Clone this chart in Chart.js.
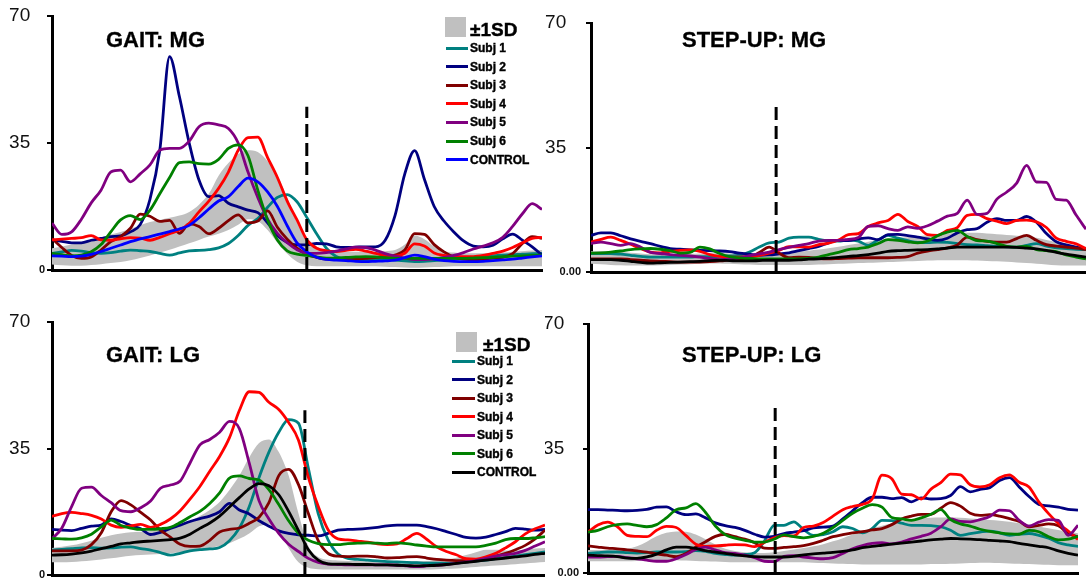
<!DOCTYPE html>
<html>
<head>
<meta charset="utf-8">
<script src="https://cdn.jsdelivr.net/npm/chart.js@4/dist/chart.umd.min.js"></script>
<style>
  body { margin: 0; background: #fff; width: 1086px; height: 579px; position: relative; overflow: hidden;
         font-family: "Liberation Sans", Arial, sans-serif; }
  canvas { position: absolute; }
  .title { position: absolute; font-weight: bold; font-size: 22px; line-height: 22px; white-space: nowrap; color: #000;
           -webkit-text-stroke: 0.3px #000; }
  .sd-box { position: absolute; background: #c0c0c0; }
  .sd-text { position: absolute; font-weight: bold; font-size: 19px; line-height: 20px; color: #000; -webkit-text-stroke: 0.4px #000; }
  .row { position: absolute; height: 18px; display: flex; align-items: center; }
  .row i { display: block; height: 3px; margin-right: 2px; }
  .row span { font-weight: bold; font-size: 12px; line-height: 12px; color: #000; white-space: nowrap; -webkit-text-stroke: 0.4px #000; }
</style>
</head>
<body>
<canvas id="gait-mg" width="545" height="290" style="left:0;top:0"></canvas>
<canvas id="step-mg" width="541" height="290" style="left:545px;top:0"></canvas>
<canvas id="gait-lg" width="545" height="289" style="left:0;top:290px"></canvas>
<canvas id="step-lg" width="541" height="289" style="left:545px;top:290px"></canvas>

<div class="title" style="left:106px;top:29px">GAIT: MG</div>
<div class="title" style="left:682px;top:29px">STEP-UP: MG</div>
<div class="title" style="left:106px;top:344px">GAIT: LG</div>
<div class="title" style="left:682px;top:344px">STEP-UP: LG</div>
<div id="legend-mg"></div>
<div id="legend-lg"></div>

<script>
// % of cycle, shared by all panels
var pct = [0, 2, 4, 6, 8, 10, 12, 14, 16, 18, 20, 22, 24, 26, 28, 30, 32, 34, 36, 38, 40, 42, 44, 46, 48, 50,
           52, 54, 56, 58, 60, 62, 64, 66, 68, 70, 72, 74, 76, 78, 80, 82, 84, 86, 88, 90, 92, 94, 96, 98, 100];

var yTicks = [0, 35, 70];
var gaitTickText = ['0', '35', '70'];
var stepTickText = ['0.00', '35', '70'];

var seriesNames = ['Subj 1', 'Subj 2', 'Subj 3', 'Subj 4', 'Subj 5', 'Subj 6', 'CONTROL'];
var subjColors = ['#008080', '#000080', '#800000', '#ff0000', '#800080', '#008000'];

// phase boundary (dashed line): x position and height, per panel
var splitAt = [52, 37.4, 51.3, 38.2];
var splitTop = [45, 47, 45.6, 46.4];

// ---- GAIT: MG ----
var mgGaitS1 = [4.6, 5, 5.4, 5.2, 4.8, 4.6, 4.8, 5.2, 5.5, 5.3, 5.1, 4.6, 4.1, 4.7, 5.3, 5.4, 5.6, 6.1, 7.3, 9.5,
  12.3, 14.2, 17.3, 20, 20.8, 18.8, 14.5, 10, 6, 3.7, 2.9, 2.8, 2.8, 2.9, 2.9, 2.7, 2.5, 2.3, 2.4, 2.6,
  2.8, 3, 3.1, 3.3, 3.6, 3.9, 4.1, 4.2, 4.4, 4.5, 4.6];
var mgGaitS2 = [8.3, 7.9, 7.5, 7.5, 8.2, 8.7, 9.2, 9.4, 10.5, 12.5, 19.5, 33, 58.8, 47.8, 35, 24.8, 20.2, 20.5, 18.4, 17.4,
  16.5, 15.8, 13, 9.5, 7.6, 6.9, 6.9, 7.3, 7.2, 6.4, 6.2, 6.3, 6.4, 6.4, 8.2, 15, 26.5, 32.9, 25, 17.5,
  13.5, 10.5, 8, 6.6, 6.4, 6.8, 8.6, 9.9, 8.2, 6.4, 4.1];
var mgGaitS3 = [8.7, 6.2, 4, 3.2, 3.6, 5.5, 7.8, 9.2, 11.5, 15.4, 14.8, 13.4, 13.7, 10.1, 12.7, 12, 10, 11.5, 13.6, 15.2,
  13, 13.5, 16.3, 11.8, 8.5, 6, 4.3, 3.5, 3, 2.9, 2.9, 3, 3.2, 3.4, 3.7, 4.1, 5.5, 10, 9.8, 7,
  5, 3.6, 3, 2.8, 3, 3.3, 3.5, 4.5, 7.3, 9.2, 8.7];
var mgGaitS4 = [8.3, 8.5, 8.7, 8.9, 9.5, 8.3, 8.2, 8.6, 8.9, 8.8, 8.2, 9, 10, 11, 12.8, 16, 19, 22.5, 27, 33,
  36.5, 36.6, 31, 25.5, 19, 13.8, 8.3, 6, 5.3, 5.1, 5.4, 5.7, 5.2, 4.6, 4, 3.8, 4.6, 7.2, 6.6, 4.7,
  4, 3.7, 3.7, 3.7, 4, 4.6, 5.2, 6.2, 7.5, 8.7, 9];
var mgGaitS5 = [12.9, 9.8, 10.5, 14, 18.5, 22, 27, 27.5, 24.3, 26.5, 29, 33, 33.5, 33.5, 35.5, 39.5, 40.5, 40, 39, 35,
  27, 20, 14, 10.1, 7.5, 5.6, 4.6, 4.6, 4.8, 5.2, 5.8, 6.3, 6.2, 5.5, 4.5, 3.8, 3.3, 2.9, 2.9, 3.1,
  3.5, 4, 4.8, 5.8, 6.6, 7.5, 9, 12, 15.5, 18.3, 16.7];
var mgGaitS6 = [4.6, 4.2, 3.9, 4.1, 5, 7, 10.5, 13.8, 15, 13.9, 16.5, 21, 25.5, 29.6, 29.8, 29.3, 29.2, 30.5, 33.5, 34.5,
  31.5, 22, 13.8, 8.3, 5.3, 4.4, 4, 3.6, 3.3, 3.3, 3.5, 3.6, 3.7, 3.6, 3.4, 3.2, 3.2, 3.2, 3.2, 3.2,
  3.2, 3.2, 3.2, 3.3, 3.4, 3.5, 3.7, 3.8, 3.9, 4, 4.1];
var mgGaitCtl = [3.9, 3.8, 3.7, 3.8, 4.3, 5.1, 6, 6.9, 7.8, 8.6, 9.2, 9.9, 10.6, 11.3, 12.3, 14.4, 16.8, 19, 20.2, 23,
  25.3, 24.3, 21.5, 17.5, 12.2, 7.5, 5, 3.5, 2.9, 2.7, 2.6, 2.4, 2.3, 2.4, 2.5, 2.7, 3.4, 4.1, 3.7, 3,
  2.6, 2.4, 2.3, 2.3, 2.4, 2.6, 2.8, 3, 3.3, 3.6, 3.9];
var mgGaitHi = [6, 6.5, 7, 7.5, 8.2, 9, 9.8, 10.5, 11.3, 12.3, 13.2, 13.8, 14.4, 15, 16, 18, 21, 26, 29.5, 32,
  33, 32.5, 30, 26, 20, 13, 8.5, 6.5, 5.5, 5.2, 5, 5, 5, 5, 5.2, 5.5, 7, 9.5, 8.5, 6.5,
  5.2, 4.8, 4.6, 4.6, 4.6, 4.7, 4.8, 5, 5.2, 5.4, 5.5];
var mgGaitLo = [1.5, 1.3, 1.2, 1.2, 1.4, 1.6, 1.9, 2.2, 2.7, 3.3, 4, 4.8, 5.6, 6.5, 7.4, 8.3, 9.2, 10, 11, 12.5,
  14, 13.5, 11, 7.5, 4.5, 2.3, 1.3, 1, 1, 1, 1, 1, 1, 1, 0.9, 0.8, 0.7, 0.6, 0.7, 0.8,
  0.9, 1, 1, 1, 1, 1, 1, 1, 1, 1, 1];

// ---- STEP-UP: MG ----
var mgStepS1 = [5.2, 5.2, 5.2, 5, 4.7, 4.4, 4.2, 4.2, 4.2, 4.2, 4.2, 4.3, 4.3, 4.4, 4.5, 4.7, 5.6, 7, 8.2, 8.4,
  9.5, 9.8, 9.8, 9.2, 8.8, 8.7, 9, 8.7, 7.5, 9, 10.3, 9.5, 8.8, 8.3, 8.3, 8.4, 8.3, 8, 7.7, 7.6,
  7.4, 7.2, 7.1, 7, 7.5, 8, 7.3, 6.8, 6.6, 6.4, 6.3];
var mgStepS2 = [10.3, 11, 11, 10.2, 9.3, 8.6, 8, 7.2, 6.6, 6.4, 6.2, 6.1, 6, 5.9, 5.7, 5.3, 5, 4.7, 4.8, 5.1,
  5.4, 6, 6.6, 7.2, 8.2, 8.9, 8.8, 9.3, 9.6, 9.1, 10.5, 10.6, 10.2, 9.8, 9.3, 8.9, 9.5, 11, 11.9, 12.2,
  14, 15, 14.5, 14.5, 15.6, 14, 10.8, 8.5, 7.6, 7, 6.6];
var mgStepS3 = [3.7, 3.7, 3.7, 3.7, 3.5, 3.3, 3.1, 3, 2.9, 2.8, 2.8, 2.8, 2.9, 3.1, 3.4, 3.7, 4, 5.5, 7, 5.3,
  4, 4.2, 4.1, 3.8, 3.7, 3.8, 3.9, 4, 4, 4, 4, 4.1, 4.3, 5.3, 5.9, 6.3, 6.8, 7.6, 9.8, 9.1,
  8.6, 8.4, 8.4, 9.4, 10.3, 8.9, 7.7, 7.3, 7, 6.7, 6.3];
var mgStepS4 = [8.4, 9.2, 9.8, 8.9, 7.8, 6.6, 5.6, 5.4, 5.8, 6.1, 6.2, 5.8, 4.9, 4.4, 4.2, 4.2, 4.3, 4.7, 5.3, 6.1,
  7.1, 7.1, 7, 7.7, 8.1, 9, 10.5, 10.8, 12.8, 13.8, 14.5, 16.2, 14.2, 12.8, 10.5, 10.3, 11.7, 12.5, 15.9, 16.2,
  15, 14.3, 13.6, 14.5, 14.6, 14.1, 12.5, 9.5, 8.6, 7.9, 6.6];
var mgStepS5 = [8, 8.4, 8, 7.5, 8, 7, 5.5, 5.2, 4.9, 4.7, 4.5, 4.2, 3.8, 3.5, 3.6, 4, 4.6, 5.1, 5.6, 6.3,
  6.9, 7.5, 8, 8.7, 8.9, 8.9, 9.2, 9.7, 12.8, 13, 12.2, 11.7, 12.7, 12.3, 13, 14.3, 15.7, 16.5, 20.2, 16.2,
  16.5, 20.5, 22.5, 25, 30, 25.3, 25.2, 20.4, 20.2, 16, 12];
var mgStepS6 = [5.3, 5.4, 5.6, 5.9, 6.3, 6.5, 6.6, 6.4, 6, 5.3, 5.5, 7, 6.5, 5.2, 4.3, 4, 3.8, 3.7, 3.7, 3.7,
  3.7, 3.7, 3.8, 4.2, 4.9, 5.5, 6.3, 6.6, 7, 8, 9.1, 8.9, 8.5, 8.2, 8.7, 10.2, 11.2, 11.7, 10, 8.8,
  8.7, 8, 7.2, 7, 7.2, 6.3, 6, 5.7, 4.8, 4.2, 3.7];
var mgStepCtl = [3.5, 3.5, 3.5, 3.3, 3, 2.7, 2.5, 2.6, 2.7, 2.8, 2.9, 3, 3.2, 3.3, 3.2, 3.1, 3.1, 3.2, 3.3, 3.3,
  3.3, 3.4, 3.6, 3.7, 3.9, 4.1, 4.4, 4.6, 4.9, 5.3, 5.8, 6, 6.1, 6.2, 6.3, 6.5, 6.7, 7, 7, 7,
  7, 7, 7, 6.9, 6.7, 6.5, 6.1, 5.5, 5, 4.6, 4.2];
var mgStepHi = [5.8, 5.8, 5.8, 5.6, 5.4, 5.2, 5, 5, 5, 5, 5.1, 5.2, 5.3, 5.3, 5.2, 5, 4.9, 5, 5.2, 5.4,
  5.6, 5.8, 6, 6.3, 6.7, 7.1, 7.6, 8, 8.5, 9, 9.4, 9.6, 9.8, 10, 10.3, 10.6, 10.8, 11, 11, 11,
  10.8, 10.6, 10.4, 10.2, 10, 9.6, 9, 8.4, 7.8, 7.3, 6.8];
var mgStepLo = [2.3, 2.2, 2, 1.9, 1.8, 1.8, 1.8, 1.9, 2, 2.1, 2.2, 2.3, 2.4, 2.4, 2.3, 2.2, 2.1, 2, 2, 2,
  2, 2, 2, 2.1, 2.2, 2.3, 2.4, 2.5, 2.6, 2.7, 2.8, 2.9, 3, 3.1, 3.2, 3.3, 3.3, 3.3, 3.3, 3.2,
  3.1, 3, 2.9, 2.7, 2.5, 2.3, 2.1, 1.9, 1.8, 1.8, 1.8];

// ---- GAIT: LG ----
var lgGaitS1 = [6.9, 7.1, 7.3, 7.5, 7.6, 7.4, 7.5, 7.7, 7.8, 7.3, 6.9, 6.2, 5.5, 6, 6.7, 7, 7.2, 7.6, 9.5, 13,
  18.9, 27, 34, 39.5, 43, 42, 29.5, 17, 9.7, 5.8, 4.6, 4.3, 4.1, 3.9, 3.7, 3.6, 3.5, 3.4, 3.3, 3.3,
  3.2, 3.3, 3.6, 3.9, 4.1, 4.5, 4.8, 5.2, 5.6, 6, 6.4];
var lgGaitS2 = [12.6, 12.4, 12.3, 12.9, 13.5, 13.8, 15.5, 14.8, 13.7, 12.8, 11.2, 11.8, 12.9, 13.8, 14.8, 15.6, 16.3, 17.5, 19.8, 18,
  16.9, 15, 13.5, 12.2, 11.5, 11.1, 11, 10.8, 11.5, 12.4, 12.6, 12.7, 12.9, 13.2, 13.6, 13.8, 13.8, 13.8, 13.4, 12.8,
  12, 11.2, 10.4, 10.2, 10.5, 11.2, 12, 12.9, 12.7, 12.4, 12.6];
var lgGaitS3 = [6.7, 6.7, 6.7, 6.9, 8.4, 11.7, 17.5, 20.6, 19.4, 17.3, 15.2, 12.4, 10.5, 8.5, 7.9, 8, 9.6, 11.9, 12.6, 13,
  14.3, 16, 20, 27.5, 29.2, 25, 17, 9.5, 6, 5.2, 5.1, 5.2, 5.2, 5, 4.7, 4.8, 5, 5.1, 4.7, 4.3,
  4.1, 4, 4, 4.1, 4.5, 5.2, 6, 7, 8.2, 10, 12.4];
var lgGaitS4 = [16.2, 17, 17.3, 17, 16.5, 15.5, 13.8, 13.2, 13.6, 14, 13.2, 14, 15.5, 17.8, 21, 24.5, 28.7, 32.8, 38, 45.5,
  50.7, 50.5, 47.8, 45.8, 42.2, 37.3, 27, 19, 12.5, 10, 9.7, 9.4, 9.1, 8.6, 8.4, 8.6, 10.1, 11.5, 9.9, 7.8,
  6.5, 5.6, 4.5, 4.4, 5, 6, 7.5, 9.2, 11.4, 12.8, 13.8];
var lgGaitS5 = [10, 13, 19, 24, 24.3, 22, 20, 17.8, 17.5, 18.6, 20.5, 24, 24.9, 26, 31, 36, 37.5, 39.5, 42.5, 40.5,
  31, 20.5, 15.5, 11.5, 8.5, 6.5, 4.6, 3.5, 3, 2.9, 2.8, 2.8, 2.8, 2.8, 2.8, 2.7, 2.5, 2.3, 2.5, 2.7,
  2.9, 3.2, 3.6, 4, 4.6, 5.2, 5.6, 6, 6.8, 8, 9.2];
var lgGaitS6 = [10.1, 10, 9.9, 10.3, 11.3, 13.3, 15.2, 13.7, 13, 12.6, 12.6, 12.8, 13.2, 14.5, 16.1, 17.6, 19.8, 22.7, 26.8, 27.4,
  26.7, 26.3, 23.6, 19.5, 15, 11.5, 9.6, 8.7, 8.4, 8.4, 8.7, 8.8, 8.9, 8.8, 8.7, 8.9, 8.7, 8.3, 8, 7.8,
  7.8, 7.8, 7.8, 7.8, 8.2, 8.8, 9.8, 10.1, 10.1, 10.3, 10.6];
var lgGaitCtl = [5.5, 5.6, 5.8, 6.1, 6.6, 7.3, 7.9, 8.6, 8.9, 9.2, 9.4, 9.6, 9.8, 10.2, 11.3, 12.9, 14.4, 16.3, 18.8, 21.4,
  23.8, 25.3, 24.7, 22.2, 17.6, 12.3, 7, 4.1, 3.1, 3, 3, 2.9, 2.9, 2.8, 2.8, 2.7, 2.6, 2.5, 2.6, 2.7,
  2.9, 3.2, 3.5, 3.8, 4.1, 4.4, 4.7, 5, 5.3, 5.7, 6];
var lgGaitHi = [7.5, 7.8, 8.2, 8.8, 9.5, 10.3, 11, 11.5, 11.8, 12, 12.2, 12.5, 13, 13.7, 14.8, 16.3, 18, 20.2, 23.5, 27.5,
  32.5, 36.5, 37.5, 34, 27.5, 17, 8, 5, 4.2, 4, 3.9, 3.9, 3.8, 3.8, 3.8, 3.8, 3.8, 3.8, 3.9, 4,
  4.3, 4.8, 5.5, 6.3, 7, 7, 6.8, 6.8, 7, 7.3, 7.5];
var lgGaitLo = [3.5, 3.5, 3.6, 3.8, 4, 4.3, 4.6, 5, 5.3, 5.5, 5.7, 5.8, 6, 6.3, 6.6, 7, 7.5, 8, 8.8, 10,
  11.5, 13.5, 14, 12, 7.5, 3.5, 2, 1.6, 1.5, 1.5, 1.5, 1.5, 1.5, 1.5, 1.5, 1.5, 1.5, 1.5, 1.5, 1.6,
  1.7, 1.8, 2, 2.2, 2.4, 2.6, 2.8, 3, 3.2, 3.4, 3.6];

// ---- STEP-UP: LG ----
var lgStepS1 = [5.5, 5.7, 5.9, 5.9, 5.7, 5.6, 5.7, 5.9, 5.9, 5.9, 6, 6.3, 6.1, 5.5, 5.2, 5, 5.2, 5.7, 9, 13.4,
  13.4, 14.4, 12.2, 10.6, 10.8, 11.6, 13, 12.5, 11.3, 12.5, 14.8, 14.7, 14, 13.4, 13.4, 13.3, 13, 12, 10.6, 11.1,
  11.5, 11.8, 11.3, 10.6, 10.9, 11.1, 10.6, 9.8, 8.5, 7.9, 7.5];
var lgStepS2 = [17.8, 17.8, 17.7, 17.6, 17.5, 17.6, 17.9, 18.5, 18.6, 17.2, 16.4, 16.6, 15.5, 14.1, 13.3, 12.8, 12, 10.9, 10.1, 10.3,
  11.1, 11.5, 11.9, 12.7, 12.9, 13.2, 15.2, 17.5, 19.8, 21.3, 21.3, 20.9, 21.2, 20, 21.1, 20.8, 20.9, 21.8, 24.3, 22.8,
  23.5, 24, 26, 26.8, 24.2, 21.5, 19.3, 18.9, 18.5, 17.9, 17.7];
var lgStepS3 = [7.6, 7.3, 7, 6.8, 6.5, 6.2, 5.9, 5.4, 5, 4.6, 5.5, 7.3, 8.8, 10.3, 10.9, 10.2, 9.5, 8.5, 7, 6.9,
  7.2, 7.4, 7.7, 8.3, 9.2, 10.2, 10.8, 11.3, 11.6, 12.1, 12.5, 13.6, 15.2, 16, 16.5, 16.5, 18.2, 19.8, 18.8, 16.8,
  16.2, 16.4, 16, 15.3, 14.5, 13, 13.4, 13.8, 13.3, 11.1, 10.2];
var lgStepS4 = [11.5, 13.5, 14.3, 13, 10.6, 10.3, 10.2, 12, 13.1, 12.8, 10.5, 8.1, 7.5, 7.6, 7.8, 8, 7.9, 7.4, 8.6, 9.9,
  10.5, 10.4, 12.8, 13.2, 14.2, 16, 17.8, 18.7, 19.3, 20.8, 27.5, 26.5, 22.2, 22, 20.8, 23.6, 25.4, 27.8, 27.6, 24.8,
  24.2, 24.8, 26.8, 27.6, 25.5, 24.2, 20, 16.7, 13.9, 11.8, 9.4];
var lgStepS5 = [4.5, 4.5, 4.6, 4.7, 4.3, 4, 3.6, 3.3, 3.3, 4, 5.2, 6.6, 7.3, 6.5, 5.7, 5.5, 5, 4.3, 3.3, 3.2,
  4.7, 4.9, 4.5, 4.2, 4, 4.3, 5.5, 6.8, 7.7, 8.3, 8.5, 8.2, 8.7, 9.6, 10.3, 11.2, 13, 15.2, 14.5, 14.4,
  15, 15.9, 17.7, 17.5, 14.8, 13.2, 14.3, 15, 14.8, 10.6, 13.4];
var lgStepS6 = [11.5, 12, 13, 13.6, 13.8, 13.4, 13, 13.6, 15.5, 17.8, 18.3, 19.5, 17, 13.2, 10.8, 9.8, 9.2, 8.7, 8.7, 9.5,
  10.7, 10.2, 9.9, 10.3, 11.2, 12.8, 14.8, 16.8, 18.2, 19.2, 18.5, 15.6, 15.2, 14.8, 15.5, 16.5, 17.8, 15, 13.8, 13.2,
  12.3, 11.7, 11.3, 11, 10.9, 12, 11.6, 10.2, 9.3, 9.5, 10.3];
var lgStepCtl = [5, 4.9, 4.8, 4.6, 4.2, 4.1, 4.5, 5.3, 6.5, 7.3, 7.3, 6.9, 6.3, 5.9, 5.5, 5.1, 4.8, 4.6, 4.5, 4.5,
  4.5, 4.7, 5.1, 5.4, 5.6, 5.8, 6.1, 6.5, 7.1, 7.5, 7.8, 8.1, 8.4, 8.7, 9, 9.3, 9.5, 9.7, 9.6, 9.5,
  9.4, 9.2, 9, 8.8, 8.3, 7.9, 7.5, 7.1, 6.2, 5.5, 5];
var lgStepHi = [6.5, 6.5, 6.5, 6.6, 6.8, 7.5, 8.8, 10.3, 11.3, 11.7, 11.6, 10.8, 9.5, 8, 6.8, 6.2, 5.8, 5.6, 5.6, 5.8,
  6.2, 6.6, 7, 7.5, 8.1, 8.9, 9.8, 10.8, 11.8, 12.6, 13.3, 13.9, 14.5, 15, 15.3, 15.5, 15.6, 15.6, 15.5, 15.3,
  15.1, 14.9, 14.7, 14.4, 14, 13.6, 13.1, 12.6, 12.1, 11.6, 11.2];
var lgStepLo = [3.3, 3.3, 3.3, 3.3, 3.3, 3.4, 3.5, 3.6, 3.6, 3.6, 3.5, 3.4, 3.3, 3.2, 3.1, 3, 3, 3, 3, 3,
  3, 3, 3, 2.9, 2.8, 2.7, 2.6, 2.5, 2.4, 2.4, 2.4, 2.4, 2.4, 2.4, 2.4, 2.5, 2.5, 2.6, 2.7, 2.8,
  2.9, 2.9, 2.8, 2.7, 2.6, 2.5, 2.4, 2.3, 2.2, 2.2, 2.2];

Chart.defaults.font.family = '"Liberation Sans", Arial, sans-serif';

function pts(vals) {
  return vals.map(function(v, i) { return {x: pct[i], y: v}; });
}

function makePanel(id, p) {
  var colors = subjColors.concat([p.ctl]);
  var sets = [
    {data: pts(p.lo), borderWidth: 0, pointRadius: 0, fill: false, cubicInterpolationMode: 'monotone', order: 100},
    {data: pts(p.hi), borderWidth: 0, pointRadius: 0, fill: '-1', backgroundColor: '#c0c0c0',
     cubicInterpolationMode: 'monotone', order: 99}
  ];
  p.lines.forEach(function(vals, i) {
    sets.push({
      label: seriesNames[i], data: pts(vals), borderColor: colors[i], borderWidth: 2.8,
      pointRadius: 0, fill: false, cubicInterpolationMode: 'monotone', order: 20 - i
    });
  });
  // dashed phase marker
  sets.push({
    data: [{x: p.split, y: 0}, {x: p.split, y: p.splitTop}], borderColor: '#000', borderWidth: 3,
    borderDash: [13, 6], pointRadius: 0, fill: false, order: 0
  });

  return new Chart(document.getElementById(id), {
    type: 'line',
    data: {datasets: sets},
    options: {
      responsive: false, animation: false, events: [], devicePixelRatio: 1,
      layout: {padding: {top: p.padTop, right: p.padRight, left: 0, bottom: 0}},
      plugins: {legend: {display: false}, tooltip: {enabled: false}},
      scales: {
        x: {
          type: 'linear', min: 0, max: 100,
          grid: {display: false}, ticks: {display: false},
          border: {color: '#000', width: 3},
          afterFit: function(s) { s.height = p.xHeight; }
        },
        y: {
          min: 0, max: 70,
          ticks: {
            stepSize: 35, padding: p.tickPad, color: '#111',
            callback: function(v) {
              var t = p.tickText[yTicks.indexOf(v)];
              return v === 0 ? t : t + '\u2002 ';
            },
            font: function(ctx) {
              return ctx.tick && ctx.tick.value === 0 ? {size: 11, weight: 'bold'} : {size: 19};
            }
          },
          grid: {drawOnChartArea: false, color: '#000', lineWidth: 2, tickLength: 5},
          border: {color: '#000', width: 3},
          afterFit: function(s) { s.width = p.yWidth; s.paddingTop = 0; s.paddingBottom = 0; }
        }
      }
    }
  });
}

makePanel('gait-mg', {lines: [mgGaitS1, mgGaitS2, mgGaitS3, mgGaitS4, mgGaitS5, mgGaitS6, mgGaitCtl], ctl: '#0000ff',
  hi: mgGaitHi, lo: mgGaitLo, split: splitAt[0], splitTop: splitTop[0], tickText: gaitTickText,
  yWidth: 52, xHeight: 20, padTop: 16, padRight: 3, tickPad: 2});
makePanel('step-mg', {lines: [mgStepS1, mgStepS2, mgStepS3, mgStepS4, mgStepS5, mgStepS6, mgStepCtl], ctl: '#000000',
  hi: mgStepHi, lo: mgStepLo, split: splitAt[1], splitTop: splitTop[1], tickText: stepTickText,
  yWidth: 46, xHeight: 18, padTop: 23, padRight: 0, tickPad: 5});
makePanel('gait-lg', {lines: [lgGaitS1, lgGaitS2, lgGaitS3, lgGaitS4, lgGaitS5, lgGaitS6, lgGaitCtl], ctl: '#000000',
  hi: lgGaitHi, lo: lgGaitLo, split: splitAt[2], splitTop: splitTop[2], tickText: gaitTickText,
  yWidth: 52, xHeight: 4, padTop: 32, padRight: 0, tickPad: 2});
makePanel('step-lg', {lines: [lgStepS1, lgStepS2, lgStepS3, lgStepS4, lgStepS5, lgStepS6, lgStepCtl], ctl: '#000000',
  hi: lgStepHi, lo: lgStepLo, split: splitAt[3], splitTop: splitTop[3], tickText: stepTickText,
  yWidth: 43, xHeight: 6, padTop: 34, padRight: 8, tickPad: 4});

// legends for the two gait panels
function buildLegend(elId, lg) {
  var el = document.getElementById(elId);
  var html = '<div class="sd-box" style="left:' + lg.boxX + 'px;top:' + lg.boxY + 'px;width:21px;height:20px"></div>' +
    '<div class="sd-text" style="left:' + lg.sdX + 'px;top:' + lg.sdY + 'px">\u00b11SD</div>';
  var colors = subjColors.concat([lg.ctl]);
  seriesNames.forEach(function(name, i) {
    var top = lg.rowY + i * lg.step - 9;
    html += '<div class="row" style="left:' + lg.lineX + 'px;top:' + top + 'px">' +
      '<i style="width:' + lg.lineW + 'px;background:' + colors[i] + '"></i><span>' + name + '</span></div>';
  });
  el.innerHTML = html;
}
buildLegend('legend-mg', {boxX: 445, boxY: 17, sdX: 470, sdY: 20, lineX: 446, lineW: 22, rowY: 48, step: 18.6, ctl: '#0000ff'});
buildLegend('legend-lg', {boxX: 456, boxY: 332, sdX: 483, sdY: 335, lineX: 452, lineW: 23, rowY: 361, step: 18.5, ctl: '#000000'});
</script>
</body>
</html>
